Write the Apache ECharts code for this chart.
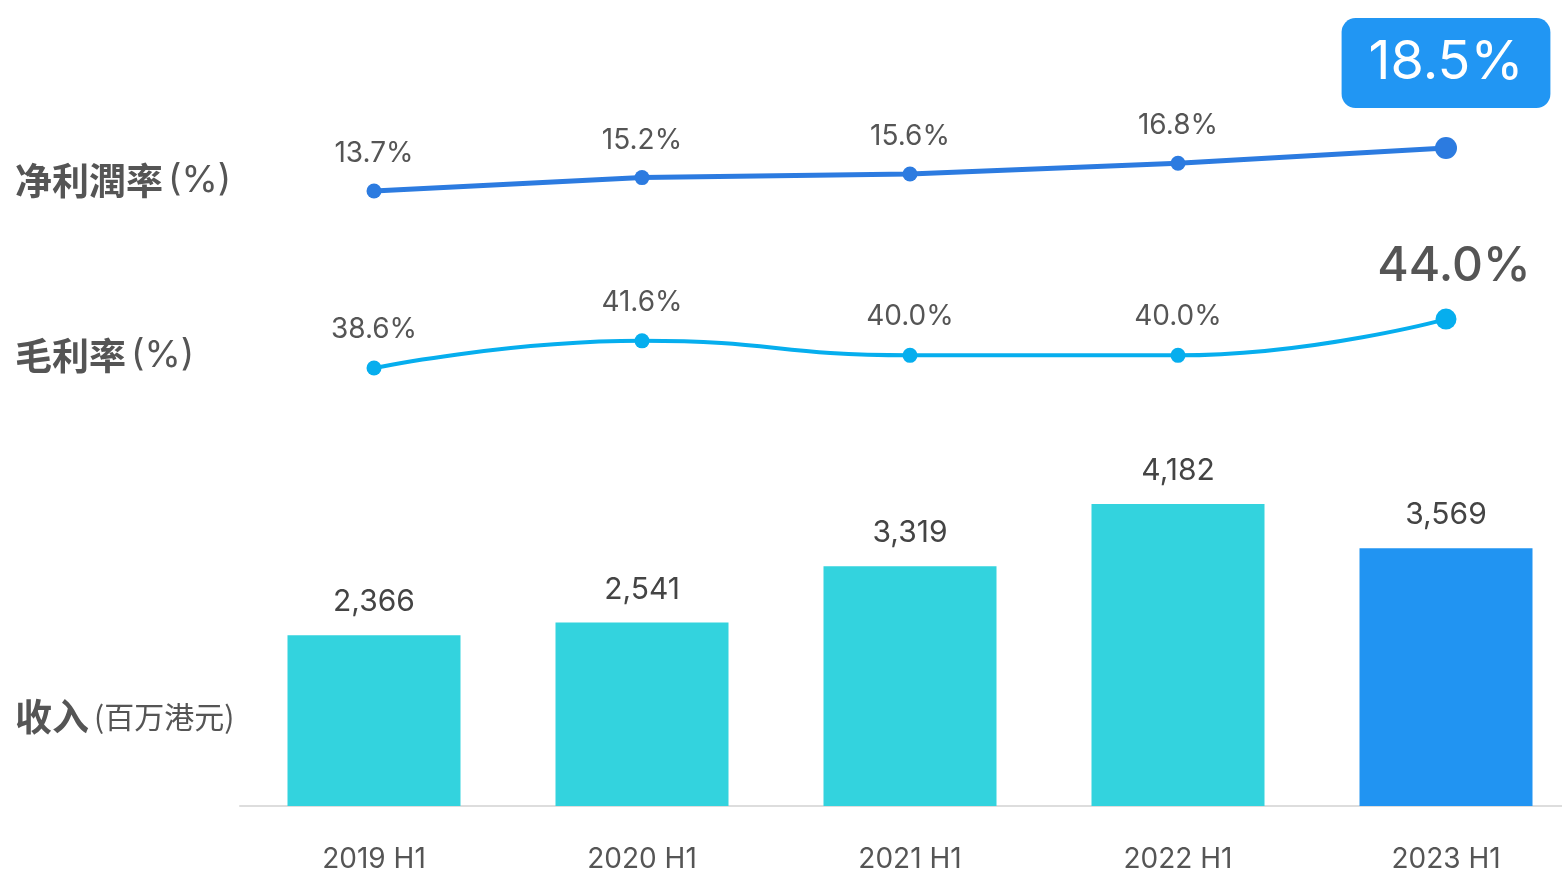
<!DOCTYPE html>
<html>
<head>
<meta charset="utf-8">
<script src="https://cdn.jsdelivr.net/npm/echarts@6/dist/echarts.min.js"></script>
<style>
  html, body { margin: 0; padding: 0; background: #fff; }
  #chart { width: 1562px; height: 872px; }
</style>
</head>
<body>
<div id="chart"></div>
<script>
  // data
  let periods = ['2019 H1', '2020 H1', '2021 H1', '2022 H1', '2023 H1'];
  let netMargin = [13.7, 15.2, 15.6, 16.8, 18.5];
  let grossMargin = [38.6, 41.6, 40.0, 40.0, 44.0];
  let revenue = [2366, 2541, 3319, 4182, 3569];

  let chart = echarts.init(document.getElementById('chart'));

  let numFont = 'Inter, Roboto, sans-serif';
  let cjkFont = '"Noto Sans CJK SC", sans-serif';
  let grey = '#555';
  let last = periods.length - 1;

  let titleRich = {
    b: { fontFamily: cjkFont, fontWeight: 'bold', fontSize: 37, color: '#555' },
    n: { fontFamily: numFont, fontWeight: 'normal', fontSize: 37, color: '#555' },
    s: { fontFamily: cjkFont, fontWeight: 'normal', fontSize: 30, color: '#555' }
  };

  let xBase = { type: 'category', data: periods, boundaryGap: true };

  let netData = netMargin.map((v, i) => {
    if (i !== last) return v;
    return {
      value: v,
      symbolSize: 22,
      label: {
        offset: [0, -13],
        fontSize: 54,
        color: '#fff',
        backgroundColor: '#2196f3',
        borderRadius: 14,
        padding: [17, 27, 17, 27],
        lineHeight: 56
      }
    };
  });

  let grossData = grossMargin.map((v, i) => {
    if (i !== last) return v;
    return {
      value: v,
      symbolSize: 21,
      label: { offset: [8, -1], fontSize: 48, fontWeight: 500, color: grey }
    };
  });

  let revData = revenue.map((v, i) => {
    if (i !== last) return v;
    return { value: v, itemStyle: { color: '#2194f2' } };
  });

  // the plot runs past the right edge of the canvas, as in the original
  let gridBase = { left: 240, width: 1340, outerBoundsMode: 'none', containLabel: false };

  chart.setOption({
    animation: false,
    title: [
      { left: 10, top: 157, text: '{b|净利潤率} {n|(%)}', textStyle: { rich: titleRich } },
      { left: 10, top: 332, text: '{b|毛利率} {n|(%)}', textStyle: { rich: titleRich } },
      { left: 10, top: 693, text: '{b|收入} {s|(百万港元)}', textStyle: { rich: titleRich } }
    ],
    grid: [
      Object.assign({ top: 134.6, height: 89.6 }, gridBase),
      Object.assign({ top: 310, height: 90.7 }, gridBase),
      Object.assign({ top: 445, height: 361 }, gridBase)
    ],
    xAxis: [
      Object.assign({ gridIndex: 0, show: false }, xBase),
      Object.assign({ gridIndex: 1, show: false }, xBase),
      Object.assign({ gridIndex: 2 }, xBase, {
        axisLine: { lineStyle: { color: '#dddddd', width: 2 } },
        axisTick: { show: false },
        axisLabel: { margin: 40, fontSize: 28, color: grey, fontFamily: numFont }
      })
    ],
    yAxis: [
      { gridIndex: 0, type: 'value', min: 10, max: 20, show: false },
      { gridIndex: 1, type: 'value', min: 35, max: 45, show: false },
      { gridIndex: 2, type: 'value', min: 0, max: 5000, show: false }
    ],
    series: [
      {
        type: 'line',
        xAxisIndex: 0,
        yAxisIndex: 0,
        data: netData,
        symbol: 'circle',
        symbolSize: 15,
        itemStyle: { color: '#2c7be0' },
        lineStyle: { width: 5, color: '#2c7be0' },
        label: {
          show: true,
          position: 'top',
          distance: 16,
          formatter: (p) => p.value.toFixed(1) + '%',
          fontSize: 28,
          color: grey,
          fontFamily: numFont
        }
      },
      {
        type: 'line',
        xAxisIndex: 1,
        yAxisIndex: 1,
        data: grossData,
        smooth: true,
        symbol: 'circle',
        symbolSize: 15,
        itemStyle: { color: '#06aeee' },
        lineStyle: { width: 4, color: '#06aeee' },
        label: {
          show: true,
          position: 'top',
          distance: 17,
          formatter: (p) => p.value.toFixed(1) + '%',
          fontSize: 28,
          color: grey,
          fontFamily: numFont
        }
      },
      {
        type: 'bar',
        xAxisIndex: 2,
        yAxisIndex: 2,
        data: revData,
        barWidth: 173,
        itemStyle: { color: '#33d3de' },
        label: {
          show: true,
          position: 'top',
          distance: 18,
          formatter: (p) => p.value.toLocaleString('en-US'),
          fontSize: 30,
          color: '#444',
          fontFamily: numFont
        }
      }
    ]
  });
</script>
</body>
</html>
